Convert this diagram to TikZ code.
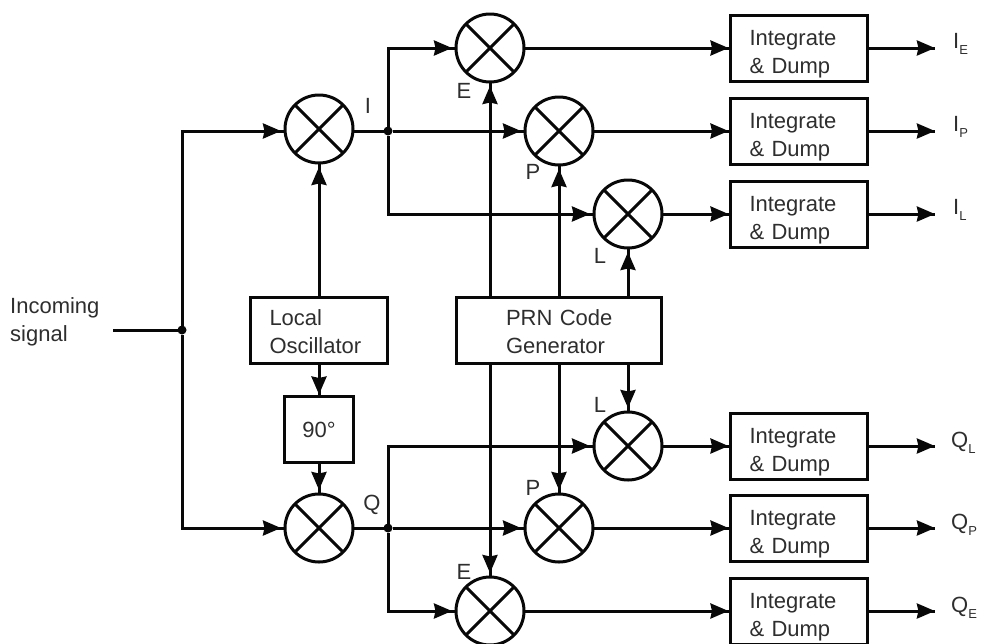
\documentclass[tikz,border=0pt]{standalone}
\usepackage{fontspec}
\setmainfont{Liberation Sans}
\usetikzlibrary{arrows.meta,decorations.markings}
\definecolor{ink}{gray}{0.03}
\definecolor{txt}{gray}{0.18}
\tikzset{
  x=1pt,y=-1pt,
  every node/.style={text=txt},
  wire/.style={line width=3pt,draw=ink},
  headat/.style={postaction={decorate,decoration={markings,mark=at position #1 with {\arrow[ink]{Stealth[length=18pt,width=15pt,inset=1.5pt]}}}}},
  arrowed/.style={wire,headat=-4pt},
  toblock/.style={wire,headat=-2pt},
  outward/.style={wire,headat=-0.1pt},
  plainbox/.style={draw=ink,line width=3pt,rectangle,inner sep=0pt,outer sep=0pt,font=\fontsize{22}{28}\selectfont},
  intbox/.style={plainbox,minimum width=137pt,minimum height=66pt,text width=99pt,align=left},
  mixer/.style={circle,draw=ink,line width=3pt,minimum size=68pt,inner sep=0pt,outer sep=0pt,
    path picture={
      \draw[line width=3pt,draw=ink] (path picture bounding box.north west) -- (path picture bounding box.south east);
      \draw[line width=3pt,draw=ink] (path picture bounding box.north east) -- (path picture bounding box.south west);
    }},
  lab/.style={font=\fontsize{22}{26}\selectfont,inner sep=0pt},
  dotj/.style={circle,fill=ink,minimum size=9pt,inner sep=0pt,outer sep=0pt},
}
\newcommand{\outl}[2]{#1\raisebox{-6pt}{\fontsize{13}{13}\selectfont #2}}
\newcommand{\padA}{\rule{0pt}{26.6pt}}
\newcommand{\padB}{\rule{0pt}{20pt}}
\begin{document}
\begin{tikzpicture}
\useasboundingbox (0,0) rectangle (981,643);
\clip (0,0) rectangle (981,643);
% mixers
\node[mixer] (mi) at (319,129) {};
\node[mixer] (mq) at (319,528) {};
\node[mixer] (ie) at (490,48) {};
\node[mixer] (ip) at (559,131) {};
\node[mixer] (il) at (628,214) {};
\node[mixer] (ql) at (628,446) {};
\node[mixer] (qp) at (559,528) {};
\node[mixer] (qe) at (490,611) {};
% integrators
\node[intbox] (bie) at (799,48) {\padA Integrate\\\& Dump};
\node[intbox] (bip) at (799,131) {\padA Integrate\\\& Dump};
\node[intbox] (bil) at (799,214) {\padA Integrate\\\& Dump};
\node[intbox] (bql) at (799,446) {\padA Integrate\\\& Dump};
\node[intbox] (bqp) at (799,528) {\padA Integrate\\\& Dump};
\node[intbox] (bqe) at (799,611) {\padA Integrate\\\& Dump};
% other blocks
\node[plainbox,minimum width=137pt,minimum height=66pt,text width=99pt,align=left] (lo) at (319,330) {\padB Local\\Oscillator};
\node[plainbox,minimum width=69pt,minimum height=66pt] (ph) at (319,429.5) {90°};
\node[plainbox,minimum width=205pt,minimum height=66pt,text width=114pt,align=left] (prn) at (559,330) {\padB\hspace*{4pt}PRN Code\\\hspace*{4pt}Generator};
% text
\node[lab,anchor=west,align=left,font=\fontsize{22}{28}\selectfont] (inc) at (10,321.5) {Incoming\\signal};
\node[lab] (li) at (368,106) {I};
\node[lab] (lq) at (372,505) {Q};
\node[lab] (le1) at (464,90.5) {E};
\node[lab] (lp1) at (533,172) {P};
\node[lab] (ll1) at (600,255.5) {L};
\node[lab] (ll2) at (600,405) {L};
\node[lab] (lp2) at (533,487.5) {P};
\node[lab] (le2) at (464,571.5) {E};
\coordinate (oie) at (935,48);
\coordinate (oip) at (935,131);
\coordinate (oil) at (935,214);
\coordinate (oql) at (935,446);
\coordinate (oqp) at (935,528);
\coordinate (oqe) at (935,611);
\node[lab,anchor=base west] (tie) at (953,48) {\outl{I}{E}};
\node[lab,anchor=base west] (tip) at (953,131) {\outl{I}{P}};
\node[lab,anchor=base west] (til) at (953,214) {\outl{I}{L}};
\node[lab,anchor=base west] (tql) at (951,447) {\outl{Q}{L}};
\node[lab,anchor=base west] (tqp) at (951,529) {\outl{Q}{P}};
\node[lab,anchor=base west] (tqe) at (951,612) {\outl{Q}{E}};
% junctions
\coordinate (start) at (113,330);
\node[dotj] (js) at (182,330) {};
\node[dotj] (ji) at (388,131) {};
\node[dotj] (jq) at (388,528) {};
% connectors
\draw[wire] (start) -- (js);
\draw[arrowed] (js) |- (mi.west |- ji);
\draw[arrowed] (js) |- (mq);
\draw[wire] (mi.east |- ji) -- (ji);
\draw[wire] (mq) -- (jq);
\draw[arrowed] (ji) |- (ie);
\draw[arrowed] (ji) -- (ip);
\draw[arrowed] (ji) |- (il);
\draw[arrowed] (jq) |- (ql);
\draw[arrowed] (jq) -- (qp);
\draw[arrowed] (jq) |- (qe);
\draw[arrowed] (lo) -- (mi);
\draw[toblock] (lo) -- (ph);
\draw[arrowed] (ph) -- (mq);
\draw[arrowed] (prn.north -| ie) -- (ie);
\draw[arrowed] (prn.north -| ip) -- (ip);
\draw[arrowed] (prn.north -| il) -- (il);
\draw[arrowed] (prn.south -| ql) -- (ql);
\draw[arrowed] (prn.south -| qp) -- (qp);
\draw[arrowed] (prn.south -| qe) -- (qe);
\foreach \m/\b/\o in {ie/bie/oie,ip/bip/oip,il/bil/oil,ql/bql/oql,qp/bqp/oqp,qe/bqe/oqe}{
  \draw[toblock] (\m) -- (\b);
  \draw[outward] (\b) -- (\o);
}
\end{tikzpicture}
\end{document}
